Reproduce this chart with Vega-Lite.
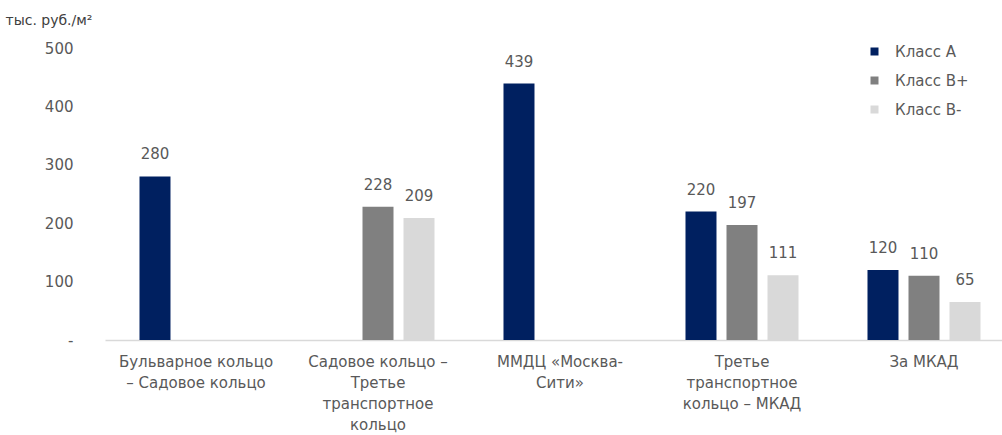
{
  "$schema": "https://vega.github.io/schema/vega-lite/v6.json",
  "width": 897,
  "height": 292,
  "autosize": {"type": "none"},
  "padding": {"left": 105, "top": 48, "right": 0, "bottom": 95},
  "background": "white",
  "config": {"view": {"stroke": null}, "font": "DejaVu Sans"},
  "data": {
    "values": [
      {"zone": "Бульварное кольцо|– Садовое кольцо", "cls": "Класс A", "value": 280},
      {"zone": "Садовое кольцо –|Третье|транспортное|кольцо", "cls": "Класс B+", "value": 228},
      {"zone": "Садовое кольцо –|Третье|транспортное|кольцо", "cls": "Класс B-", "value": 209},
      {"zone": "ММДЦ «Москва-|Сити»", "cls": "Класс A", "value": 439},
      {"zone": "Третье|транспортное|кольцо – МКАД", "cls": "Класс A", "value": 220},
      {"zone": "Третье|транспортное|кольцо – МКАД", "cls": "Класс B+", "value": 197},
      {"zone": "Третье|транспортное|кольцо – МКАД", "cls": "Класс B-", "value": 111},
      {"zone": "За МКАД", "cls": "Класс A", "value": 120},
      {"zone": "За МКАД", "cls": "Класс B+", "value": 110},
      {"zone": "За МКАД", "cls": "Класс B-", "value": 65}
    ]
  },
  "encoding": {
    "x": {
      "field": "zone",
      "type": "nominal",
      "sort": [
        "Бульварное кольцо|– Садовое кольцо",
        "Садовое кольцо –|Третье|транспортное|кольцо",
        "ММДЦ «Москва-|Сити»",
        "Третье|транспортное|кольцо – МКАД",
        "За МКАД"
      ],
      "scale": {"range": [0, 910], "paddingInner": 0, "paddingOuter": 0},
      "axis": {
        "title": null,
        "labelAngle": 0,
        "labelExpr": "split(datum.label, '|')",
        "labelFontSize": 15,
        "labelColor": "#595959",
        "labelLineHeight": 21,
        "labelPadding": 14,
        "labelLimit": 300,
        "ticks": false,
        "domain": true,
        "domainColor": "#d9d9d9",
        "domainWidth": 1.5,
        "grid": false
      }
    },
    "xOffset": {
      "field": "cls",
      "type": "nominal",
      "scale": {
        "domain": ["Класс A", "Класс B+", "Класс B-"],
        "paddingInner": 0.244,
        "paddingOuter": 0.841
      }
    },
    "y": {
      "field": "value",
      "type": "quantitative",
      "scale": {"domain": [0, 500]},
      "axis": {
        "values": [0, 100, 200, 300, 400, 500],
        "labelExpr": "datum.value == 0 ? '-\u2007\u2007\u2007' : datum.label",
        "labelFontSize": 15,
        "labelColor": "#595959",
        "labelPadding": 32,
        "ticks": false,
        "domain": false,
        "grid": false,
        "title": "тыс. руб./м²",
        "titleAngle": 0,
        "titleX": -100,
        "titleY": -24,
        "titleAlign": "left",
        "titleBaseline": "alphabetic",
        "titleFontWeight": "normal",
        "titleFontSize": 14,
        "titleColor": "#404040"
      }
    }
  },
  "layer": [
    {
      "mark": {"type": "bar"},
      "encoding": {
        "color": {
          "field": "cls",
          "type": "nominal",
          "scale": {
            "domain": ["Класс A", "Класс B+", "Класс B-"],
            "range": ["#002060", "#808080", "#d9d9d9"]
          },
          "legend": {
            "title": null,
            "orient": "none",
            "legendX": 762,
            "legendY": -4,
            "symbolType": "square",
            "symbolSize": 64,
            "symbolStrokeWidth": 0,
            "labelFontSize": 15,
            "labelColor": "#595959",
            "rowPadding": 13,
            "labelOffset": 13,
            "padding": 0
          }
        }
      }
    },
    {
      "mark": {
        "type": "text",
        "dy": -17,
        "baseline": "alphabetic",
        "fontSize": 15,
        "fill": "#595959"
      },
      "encoding": {"text": {"field": "value", "type": "quantitative"}}
    }
  ]
}
